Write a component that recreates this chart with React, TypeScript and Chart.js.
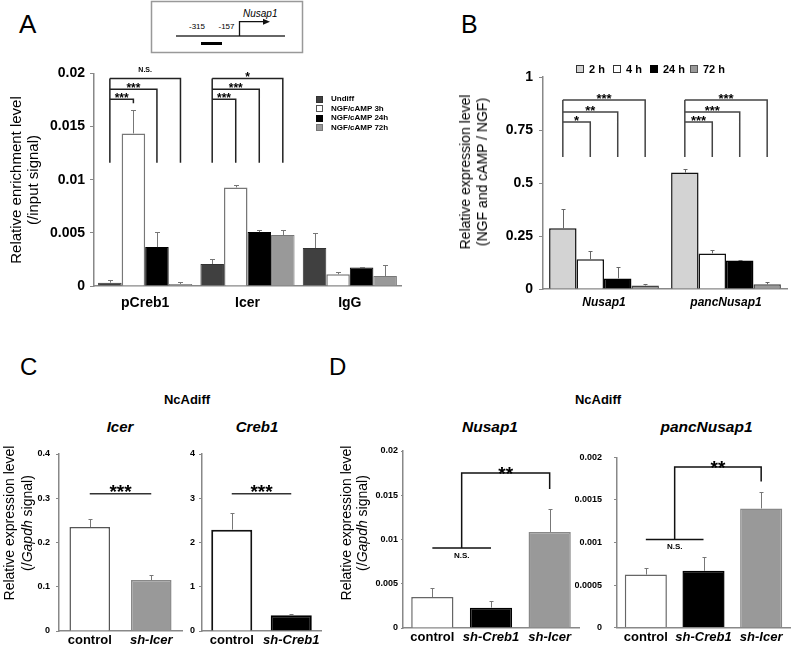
import React, { useEffect, useRef } from "react";
import { Chart, registerables } from "chart.js";

Chart.register(...registerables);

const FONT = '"Liberation Sans", Arial, Helvetica, sans-serif';
Chart.defaults.font.family = FONT;
Chart.defaults.color = "#000";

// ---------- Panel A: ChIP enrichment ----------
const chipCategories = ["pCreb1", "Icer", "IgG"];
const chipSeries = ["Undiff", "NGF/cAMP 3h", "NGF/cAMP 24h", "NGF/cAMP 72h"];
const chipUndiff = [0.00031, 0.00207, 0.00357];
const chipNgf3h = [0.01435, 0.00927, 0.0011];
const chipNgf24h = [0.00366, 0.00507, 0.00175];
const chipNgf72h = [0.00019, 0.00479, 0.00094];
const chipUndiffErr = [0.00022, 0.00047, 0.00143];
const chipNgf3hErr = [0.00225, 0.00024, 0.00018];
const chipNgf24hErr = [0.00141, 0.00022, 0.00005];
const chipNgf72hErr = [0.00016, 0.0005, 0.001];
const chipTicks = [0, 0.005, 0.01, 0.015, 0.02];
const chipTickLabels = ["0", "0.005", "0.01", "0.015", "0.02"];
const chipBracketLevels = [0.01756, 0.0185, 0.01953];
const chipBracketLegEnds = [
  [0.0172, 0.0116, 0.0116],
  [0.0116, 0.0116, 0.0116],
];
const chipBracketLabels = [
  ["***", "***", "N.S."],
  ["***", "***", "*"],
];
const chipBracketBottom = 0.0116;

// ---------- Panel B: expression ratio ----------
const exprCategories = ["Nusap1", "pancNusap1"];
const exprSeries = ["2 h", "4 h", "24 h", "72 h"];
const expr2h = [0.286, 0.549];
const expr4h = [0.14, 0.168];
const expr24h = [0.05, 0.135];
const expr72h = [0.017, 0.022];
const expr2hErr = [0.09, 0.016];
const expr4hErr = [0.039, 0.015];
const expr24hErr = [0.052, 0.002];
const expr72hErr = [0.005, 0.011];
const exprTicks = [0, 0.25, 0.5, 0.75, 1];
const exprTickLabels = ["0", "0.25", "0.5", "0.75", "1"];
const exprBracketLevels = [0.788, 0.835, 0.892];
const exprBracketLegEnds = [
  [0.623, 0.623, 0.623],
  [0.623, 0.623, 0.623],
];
const exprBracketLabels = [
  ["*", "**", "***"],
  ["***", "***", "***"],
];
const exprBracketBottom = 0.623;

// ---------- Panel C: knock-down ----------
const kdIcerCategories = ["control", "sh-Icer"];
const kdIcer = [0.235, 0.115];
const kdIcerErr = [0.017, 0.012];
const kdIcerTicks = [0, 0.1, 0.2, 0.3, 0.4];
const kdIcerTickLabels = ["0", "0.1", "0.2", "0.3", "0.4"];
const kdIcerSigLevel = 0.31;
const kdCrebCategories = ["control", "sh-Creb1"];
const kdCreb1 = [2.29, 0.355];
const kdCreb1Err = [0.37, 0.035];
const kdCrebTicks = [0, 1, 2, 3, 4];
const kdCrebTickLabels = ["0", "1", "2", "3", "4"];
const kdCrebSigLevel = 3.1;
const kdSigLabel = "***";

// ---------- Panel D: Nusap1 / pancNusap1 after knock-down ----------
const rescueCategories = ["control", "sh-Creb1", "sh-Icer"];
const rescueNusap1 = [0.0035, 0.0023, 0.01085];
const rescueNusap1Err = [0.001, 0.0008, 0.00265];
const rescueNusap1Ticks = [0, 0.005, 0.01, 0.015, 0.02];
const rescueNusap1TickLabels = ["0", "0.005", "0.01", "0.015", "0.02"];
const rescueNusap1Levels = [0.00904, 0.01751, 0.0157]; // N.S. line, bracket top, right leg end
const rescuePanc = [0.000623, 0.000668, 0.0014];
const rescuePancErr = [0.000075, 0.00016, 0.00019];
const rescuePancTicks = [0, 0.0005, 0.001, 0.0015, 0.002];
const rescuePancTickLabels = ["0", "0.0005", "0.001", "0.0015", "0.002"];
const rescuePancLevels = [0.001034, 0.001886, 0.001716];
const rescueLabels = ["N.S.", "**"];

// ---------- Generic bar panel ----------
type DS = {
  label: string;
  data: number[];
  err: number[];
  bg: string | string[];
  border: string | string[];
  bw: number | number[];
};

type Spec = {
  box: [number, number, number, number];
  area: [number, number, number, number];
  labels: string[];
  datasets: DS[];
  yMax: number;
  yTicks: number[];
  yTickLabels: string[];
  yFont: number;
  yTickLen: number;
  yPad: number;
  xFont: number;
  xItalic: (i: number) => boolean;
  xPad: number;
  catPct: number;
  barPct: number;
  errColor: string;
  errCap: number;
  annotate?: (chart: any) => void;
};

function drawErrors(chart: any, spec: Spec) {
  const ctx = chart.ctx;
  const y = chart.scales.y;
  chart.data.datasets.forEach((ds: any, di: number) => {
    const meta = chart.getDatasetMeta(di);
    const errs = ds.errors || [];
    meta.data.forEach((bar: any, i: number) => {
      const v = ds.data[i];
      const e = errs[i] || 0;
      const x = Math.round(bar.x) + 0.5;
      const y0 = y.getPixelForValue(v);
      const y1 = Math.round(y.getPixelForValue(v + e)) + 0.5;
      ctx.save();
      ctx.strokeStyle = spec.errColor;
      ctx.lineWidth = 1;
      ctx.beginPath();
      ctx.moveTo(x, y0);
      ctx.lineTo(x, y1);
      ctx.moveTo(x - spec.errCap, y1);
      ctx.lineTo(x + spec.errCap, y1);
      ctx.stroke();
      ctx.restore();
    });
  });
}

function drawTree(
  chart: any,
  levels: number[],
  legEnds: number[][],
  labels: string[][],
  bottom: number,
  starFont: string,
  textFont: string,
  starDy: number,
  textDy: number,
  color: string
) {
  const ctx = chart.ctx;
  const y = chart.scales.y;
  for (let g = 0; g < legEnds.length; g++) {
    const x0 = chart.getDatasetMeta(0).data[g].x;
    ctx.save();
    ctx.strokeStyle = color;
    ctx.lineWidth = 1.5;
    ctx.beginPath();
    ctx.moveTo(x0, y.getPixelForValue(Math.max(...levels)));
    ctx.lineTo(x0, y.getPixelForValue(bottom));
    levels.forEach((lv, k) => {
      const xs = chart.getDatasetMeta(k + 1).data[g].x;
      const yl = y.getPixelForValue(lv);
      ctx.moveTo(x0, yl);
      ctx.lineTo(xs, yl);
      ctx.lineTo(xs, y.getPixelForValue(legEnds[g][k]));
    });
    ctx.stroke();
    ctx.fillStyle = "#000";
    ctx.textAlign = "center";
    ctx.textBaseline = "alphabetic";
    levels.forEach((lv, k) => {
      const xs = chart.getDatasetMeta(k + 1).data[g].x;
      const lab = labels[g][k];
      const star = lab.indexOf("*") >= 0;
      ctx.font = star ? starFont : textFont;
      ctx.fillText(lab, (x0 + xs) / 2, y.getPixelForValue(lv) + (star ? starDy : textDy));
    });
    ctx.restore();
  }
}

function drawSimpleSig(chart: any, level: number, label: string) {
  const ctx = chart.ctx;
  const y = chart.scales.y;
  const m = chart.getDatasetMeta(0).data;
  const yl = y.getPixelForValue(level);
  ctx.save();
  ctx.strokeStyle = "#333";
  ctx.lineWidth = 1.5;
  ctx.beginPath();
  ctx.moveTo(m[0].x, yl);
  ctx.lineTo(m[1].x, yl);
  ctx.stroke();
  ctx.fillStyle = "#000";
  ctx.font = `bold 19px ${FONT}`;
  ctx.textAlign = "center";
  ctx.textBaseline = "alphabetic";
  ctx.fillText(label, (m[0].x + m[1].x) / 2, yl + 4);
  ctx.restore();
}

function drawNsBracket(chart: any, levels: number[], labels: string[], nsDy: number) {
  const ctx = chart.ctx;
  const y = chart.scales.y;
  const m = chart.getDatasetMeta(0).data;
  const yNs = y.getPixelForValue(levels[0]);
  const yTop = y.getPixelForValue(levels[1]);
  const yLeg = y.getPixelForValue(levels[2]);
  const xMid = (m[0].x + m[1].x) / 2;
  ctx.save();
  ctx.strokeStyle = "#111";
  ctx.lineWidth = 1.5;
  ctx.beginPath();
  ctx.moveTo(m[0].x, yNs);
  ctx.lineTo(m[1].x, yNs);
  ctx.moveTo(xMid, yNs);
  ctx.lineTo(xMid, yTop);
  ctx.lineTo(m[2].x, yTop);
  ctx.lineTo(m[2].x, yLeg);
  ctx.stroke();
  ctx.fillStyle = "#000";
  ctx.textAlign = "center";
  ctx.textBaseline = "alphabetic";
  ctx.font = `bold 8px ${FONT}`;
  ctx.fillText(labels[0], xMid, yNs + nsDy);
  ctx.font = `bold 19px ${FONT}`;
  ctx.fillText(labels[1], (xMid + m[2].x) / 2, yTop + 6.5);
  ctx.restore();
}

function BarPanel({ spec }: { spec: Spec }) {
  const ref = useRef<HTMLCanvasElement>(null);
  useEffect(() => {
    const [bl, bt, bw, bh] = spec.box;
    const [al, at, ar, ab] = spec.area;
    const yWidth = al - bl;
    const padTop = at - bt;
    const padRight = bl + bw - ar;
    const xHeight = bt + bh - ab;
    const chart = new Chart(ref.current as HTMLCanvasElement, {
      type: "bar",
      data: {
        labels: spec.labels,
        datasets: spec.datasets.map((d) => ({
          label: d.label,
          data: d.data,
          errors: d.err,
          backgroundColor: d.bg,
          borderColor: d.border,
          borderWidth: d.bw,
          categoryPercentage: spec.catPct,
          barPercentage: spec.barPct,
        })) as any,
      },
      options: {
        responsive: false,
        maintainAspectRatio: false,
        animation: false,
        layout: { padding: { top: padTop, right: padRight, left: 0, bottom: 0 } },
        plugins: {
          legend: { display: false },
          tooltip: { enabled: false },
          title: { display: false },
        },
        scales: {
          x: {
            type: "category",
            grid: { display: false, drawTicks: false },
            border: { display: true, color: "#888", width: 1.5 },
            ticks: {
              color: "#000",
              padding: spec.xPad,
              maxRotation: 0,
              autoSkip: false,
              font: (ctx: any) => ({
                family: FONT,
                size: spec.xFont,
                weight: "bold",
                style: spec.xItalic(ctx && typeof ctx.index === "number" ? ctx.index : 0) ? "italic" : "normal",
              }),
            },
            afterFit: (s: any) => {
              s.height = xHeight;
            },
          },
          y: {
            min: 0,
            max: spec.yMax,
            grid: {
              display: true,
              drawOnChartArea: false,
              drawTicks: true,
              tickLength: spec.yTickLen,
              color: "#888",
            },
            border: { display: true, color: "#888", width: 1.5 },
            ticks: {
              color: "#000",
              padding: spec.yPad,
              font: { family: FONT, size: spec.yFont, weight: "bold" },
              callback: (_v: any, i: number) => spec.yTickLabels[i],
            },
            afterBuildTicks: (s: any) => {
              s.ticks = spec.yTicks.map((v) => ({ value: v }));
            },
            afterFit: (s: any) => {
              s.width = yWidth;
            },
          },
        },
      } as any,
      plugins: [
        {
          id: "extras",
          afterDatasetsDraw(c: any) {
            try {
              drawErrors(c, spec);
              if (spec.annotate) spec.annotate(c);
            } catch (e) {
              console.error(e);
            }
          },
        },
      ],
    });
    return () => chart.destroy();
  }, [spec]);
  const [bl, bt, bw, bh] = spec.box;
  return (
    <canvas
      ref={ref}
      width={bw}
      height={bh}
      style={{ position: "absolute", left: bl, top: bt, width: bw, height: bh }}
    />
  );
}

// ---------- Specs ----------
const specA: Spec = {
  box: [30, 60, 375, 262],
  area: [94, 73, 401, 286],
  labels: chipCategories,
  datasets: [
    { label: chipSeries[0], data: chipUndiff, err: chipUndiffErr, bg: "#404040", border: "#333", bw: 1 },
    { label: chipSeries[1], data: chipNgf3h, err: chipNgf3hErr, bg: "#ffffff", border: "#777", bw: 1.5 },
    { label: chipSeries[2], data: chipNgf24h, err: chipNgf24hErr, bg: "#000000", border: "#000", bw: 1 },
    { label: chipSeries[3], data: chipNgf72h, err: chipNgf72hErr, bg: "#999999", border: "#777", bw: 1 },
  ],
  yMax: 0.02,
  yTicks: chipTicks,
  yTickLabels: chipTickLabels,
  yFont: 14,
  yTickLen: 4,
  yPad: 5,
  xFont: 14,
  xItalic: () => false,
  xPad: 9,
  catPct: 0.92,
  barPct: 1,
  errColor: "#777",
  errCap: 2.5,
  annotate: (c) =>
    drawTree(
      c,
      chipBracketLevels,
      chipBracketLegEnds,
      chipBracketLabels,
      chipBracketBottom,
      `bold 12px ${FONT}`,
      `bold 7px ${FONT}`,
      2.5,
      -6,
      "#222"
    ),
};

const specB: Spec = {
  box: [490, 60, 305, 262],
  area: [543, 77, 787, 289],
  labels: exprCategories,
  datasets: [
    { label: exprSeries[0], data: expr2h, err: expr2hErr, bg: "#d3d3d3", border: "#111", bw: 1.5 },
    { label: exprSeries[1], data: expr4h, err: expr4hErr, bg: "#ffffff", border: "#111", bw: 1.5 },
    { label: exprSeries[2], data: expr24h, err: expr24hErr, bg: "#000000", border: "#000", bw: 1.5 },
    { label: exprSeries[3], data: expr72h, err: expr72hErr, bg: "#999999", border: "#444", bw: 1.5 },
  ],
  yMax: 1,
  yTicks: exprTicks,
  yTickLabels: exprTickLabels,
  yFont: 14,
  yTickLen: 4,
  yPad: 6,
  xFont: 12,
  xItalic: () => true,
  xPad: 6,
  catPct: 0.9,
  barPct: 1,
  errColor: "#666",
  errCap: 2,
  annotate: (c) =>
    drawTree(
      c,
      exprBracketLevels,
      exprBracketLegEnds,
      exprBracketLabels,
      exprBracketBottom,
      `bold 13px ${FONT}`,
      `bold 8px ${FONT}`,
      3,
      -5,
      "#444"
    ),
};

const specC1: Spec = {
  box: [25, 440, 160, 205],
  area: [59, 454, 182, 631],
  labels: kdIcerCategories,
  datasets: [
    {
      label: "Icer",
      data: kdIcer,
      err: kdIcerErr,
      bg: ["#ffffff", "#999999"],
      border: ["#555", "#888"],
      bw: 1.5,
    },
  ],
  yMax: 0.4,
  yTicks: kdIcerTicks,
  yTickLabels: kdIcerTickLabels,
  yFont: 9,
  yTickLen: 3,
  yPad: 6,
  xFont: 13,
  xItalic: (i) => i > 0,
  xPad: 2,
  catPct: 1,
  barPct: 0.66,
  errColor: "#777",
  errCap: 2,
  annotate: (c) => drawSimpleSig(c, kdIcerSigLevel, kdSigLabel),
};

const specC2: Spec = {
  box: [170, 440, 155, 205],
  area: [202, 454, 321, 631],
  labels: kdCrebCategories,
  datasets: [
    {
      label: "Creb1",
      data: kdCreb1,
      err: kdCreb1Err,
      bg: ["#ffffff", "#000000"],
      border: ["#111", "#000"],
      bw: 2,
    },
  ],
  yMax: 4,
  yTicks: kdCrebTicks,
  yTickLabels: kdCrebTickLabels,
  yFont: 9,
  yTickLen: 3,
  yPad: 4,
  xFont: 13,
  xItalic: (i) => i > 0,
  xPad: 2,
  catPct: 1,
  barPct: 0.69,
  errColor: "#777",
  errCap: 2,
  annotate: (c) => drawSimpleSig(c, kdCrebSigLevel, kdSigLabel),
};

const specD1: Spec = {
  box: [360, 440, 225, 205],
  area: [403, 451, 579, 628],
  labels: rescueCategories,
  datasets: [
    {
      label: "Nusap1",
      data: rescueNusap1,
      err: rescueNusap1Err,
      bg: ["#ffffff", "#000000", "#999999"],
      border: ["#666", "#000", "#888"],
      bw: 1.5,
    },
  ],
  yMax: 0.02,
  yTicks: rescueNusap1Ticks,
  yTickLabels: rescueNusap1TickLabels,
  yFont: 9,
  yTickLen: 2,
  yPad: 3,
  xFont: 13,
  xItalic: (i) => i > 0,
  xPad: 2,
  catPct: 1,
  barPct: 0.72,
  errColor: "#777",
  errCap: 2,
  annotate: (c) => drawNsBracket(c, rescueNusap1Levels, rescueLabels, 10.5),
};

const specD2: Spec = {
  box: [575, 440, 221, 205],
  area: [617, 452, 790, 628],
  labels: rescueCategories,
  datasets: [
    {
      label: "pancNusap1",
      data: rescuePanc,
      err: rescuePancErr,
      bg: ["#ffffff", "#000000", "#999999"],
      border: ["#666", "#000", "#888"],
      bw: 1.5,
    },
  ],
  yMax: 0.002,
  yTicks: rescuePancTicks,
  yTickLabels: rescuePancTickLabels,
  yFont: 9,
  yTickLen: 3,
  yPad: 12,
  xFont: 13,
  xItalic: (i) => i > 0,
  xPad: 2,
  catPct: 1,
  barPct: 0.73,
  errColor: "#777",
  errCap: 2,
  annotate: (c) => drawNsBracket(c, rescuePancLevels, rescueLabels, 9),
};

// ---------- Text helpers ----------
function Txt(props: {
  x: number;
  y: number;
  size: number;
  bold?: boolean;
  italic?: boolean;
  align?: "left" | "center" | "right";
  children: React.ReactNode;
}) {
  const { x, y, size, bold, italic, align = "left", children } = props;
  const tx = align === "center" ? "-50%" : align === "right" ? "-100%" : "0";
  return (
    <div
      style={{
        position: "absolute",
        left: x,
        top: y - size * 0.8465,
        fontFamily: FONT,
        fontSize: size,
        lineHeight: `${size}px`,
        fontWeight: bold ? "bold" : "normal",
        fontStyle: italic ? "italic" : "normal",
        whiteSpace: "nowrap",
        transform: `translateX(${tx})`,
        color: "#000",
      }}
    >
      {children}
    </div>
  );
}

function VTitle(props: { cx: number; cy: number; size: number; lh: number; children: React.ReactNode }) {
  return (
    <div
      style={{
        position: "absolute",
        left: props.cx,
        top: props.cy,
        transform: "translate(-50%, -50%) rotate(-90deg)",
        whiteSpace: "nowrap",
        textAlign: "center",
        fontFamily: FONT,
        fontSize: props.size,
        lineHeight: `${props.lh}px`,
        color: "#000",
      }}
    >
      {props.children}
    </div>
  );
}

function Swatch(props: { x: number; y: number; s: number; fill: string; stroke: string }) {
  return (
    <div
      style={{
        position: "absolute",
        left: props.x,
        top: props.y,
        width: props.s,
        height: props.s,
        boxSizing: "border-box",
        background: props.fill,
        border: `1px solid ${props.stroke}`,
      }}
    />
  );
}

const legendAFills = ["#404040", "#ffffff", "#000000", "#999999"];
const legendAStrokes = ["#333", "#555", "#000", "#777"];
const legendBFills = ["#d3d3d3", "#ffffff", "#000000", "#999999"];
const legendBStrokes = ["#333", "#333", "#000", "#555"];
const legendBX = [576, 613, 650, 690];

export default function App() {
  return (
    <div
      style={{
        position: "absolute",
        left: 0,
        top: 0,
        width: 796,
        height: 645,
        background: "#fff",
        overflow: "hidden",
      }}
    >
      {/* promoter diagram */}
      <svg width={796} height={60} style={{ position: "absolute", left: 0, top: 0 }}>
        <rect x={151.5} y={1.5} width={151} height={51} fill="#fff" stroke="#999" strokeWidth={1.5} />
        <line x1={176} y1={36} x2={285} y2={36} stroke="#333" strokeWidth={1.5} />
        <path d="M239.5 36 V21.7 H264" fill="none" stroke="#111" strokeWidth={1.3} />
        <polygon points="263,18.7 270,21.7 263,24.7" fill="#111" />
        <line x1={201} y1={43.5} x2={222} y2={43.5} stroke="#000" strokeWidth={3} />
        <text x={197} y={29} fontFamily={FONT} fontSize={8} textAnchor="middle" fill="#000">-315</text>
        <text x={226.5} y={29} fontFamily={FONT} fontSize={8} textAnchor="middle" fill="#000">-157</text>
        <text x={243} y={17} fontFamily={FONT} fontSize={10} fontStyle="italic" fill="#000">Nusap1</text>
      </svg>

      {/* Panel letters */}
      <Txt x={19} y={33} size={26}>A</Txt>
      <Txt x={461} y={33} size={25}>B</Txt>
      <Txt x={20} y={375} size={24}>C</Txt>
      <Txt x={329} y={375} size={24}>D</Txt>

      {/* Panel A */}
      <BarPanel spec={specA} />
      <VTitle cx={23.5} cy={180} size={15} lh={17}>
        Relative enrichment level
        <br />
        (/input signal)
      </VTitle>
      {chipSeries.map((s, i) => (
        <React.Fragment key={s}>
          <Swatch x={316} y={95.5 + i * 9.6} s={7} fill={legendAFills[i]} stroke={legendAStrokes[i]} />
          <Txt x={331} y={101.9 + i * 9.6} size={8} bold>
            {s}
          </Txt>
        </React.Fragment>
      ))}

      {/* Panel B */}
      <BarPanel spec={specB} />
      <VTitle cx={473.5} cy={172} size={14} lh={17}>
        Relative expression level
        <br />
        (NGF and cAMP / NGF)
      </VTitle>
      {exprSeries.map((s, i) => (
        <React.Fragment key={s}>
          <Swatch x={legendBX[i]} y={65} s={8} fill={legendBFills[i]} stroke={legendBStrokes[i]} />
          <Txt x={legendBX[i] + 13} y={73} size={11} bold>
            {s}
          </Txt>
        </React.Fragment>
      ))}

      {/* Panel C */}
      <Txt x={187} y={403.6} size={13} bold align="center">NcAdiff</Txt>
      <Txt x={120} y={432} size={15} bold italic align="center">Icer</Txt>
      <Txt x={257} y={432} size={15} bold italic align="center">Creb1</Txt>
      <VTitle cx={18} cy={523} size={14} lh={17.5}>
        Relative expression level
        <br />
        (/<i>Gapdh</i> signal)
      </VTitle>
      <BarPanel spec={specC1} />
      <BarPanel spec={specC2} />

      {/* Panel D */}
      <Txt x={598} y={403.6} size={13} bold align="center">NcAdiff</Txt>
      <Txt x={490} y={432.4} size={15.5} bold italic align="center">Nusap1</Txt>
      <Txt x={706.5} y={432.4} size={15.5} bold italic align="center">pancNusap1</Txt>
      <VTitle cx={354} cy={523} size={14} lh={15.5}>
        Relative expression level
        <br />
        (/<i>Gapdh</i> signal)
      </VTitle>
      <BarPanel spec={specD1} />
      <BarPanel spec={specD2} />
    </div>
  );
}
